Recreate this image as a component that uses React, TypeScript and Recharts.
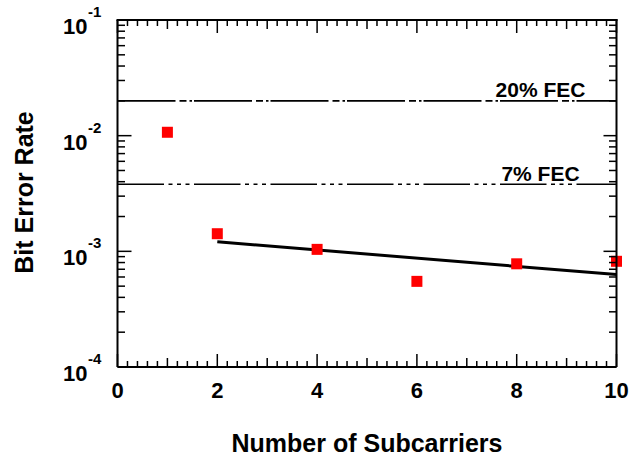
import React from "react";
import {
  ScatterChart,
  Scatter,
  XAxis,
  YAxis,
  ReferenceLine,
  Label,
} from "recharts";

const subcarriers = [1, 2, 4, 6, 8, 10];
const bitErrorRates = [1.07e-2, 1.42e-3, 1.04e-3, 0.55e-3, 0.78e-3, 0.82e-3];

// fitted trend line end points
const fitSubcarriers = [2, 10];
const fitBitErrorRates = [1.21e-3, 0.63e-3];

// FEC thresholds
const fecLevels = [2.0e-2, 3.8e-3];
const fecNames = ["20% FEC", "7% FEC"];
const fecDashes = ["58 4 7 3 2.5 2", "46.5 4.5 4 4.5 4 4.5 4 4.5"];

const xTicks = [
  0, 0.2, 0.4, 0.6, 0.8, 1, 1.2, 1.4, 1.6, 1.8, 2, 2.2, 2.4, 2.6, 2.8, 3, 3.2,
  3.4, 3.6, 3.8, 4, 4.2, 4.4, 4.6, 4.8, 5, 5.2, 5.4, 5.6, 5.8, 6, 6.2, 6.4, 6.6,
  6.8, 7, 7.2, 7.4, 7.6, 7.8, 8, 8.2, 8.4, 8.6, 8.8, 9, 9.2, 9.4, 9.6, 9.8, 10,
];
const yTicks = [
  1e-4, 2e-4, 3e-4, 4e-4, 5e-4, 6e-4, 7e-4, 8e-4, 9e-4, 1e-3, 2e-3, 3e-3, 4e-3,
  5e-3, 6e-3, 7e-3, 8e-3, 9e-3, 1e-2, 2e-2, 3e-2, 4e-2, 5e-2, 6e-2, 7e-2, 8e-2,
  9e-2, 1e-1,
];

const points = subcarriers.map((n, i) => ({ n, ber: bitErrorRates[i] }));
const fitPoints = fitSubcarriers.map((n, i) => ({ n, ber: fitBitErrorRates[i] }));

const W = 642;
const H = 456;
const LEFT = 117.5;
const RIGHT = 25.5;
const TOP = 20;
const BOTTOM = 89;
const PLOT_W = W - LEFT - RIGHT;
const PLOT_H = H - TOP - BOTTOM;
const FONT = "'Liberation Sans', Arial, Helvetica, sans-serif";

const xKind = (v: number) => {
  const r = Math.round(v);
  if (Math.abs(v - r) > 1e-6) return "minor";
  return r % 2 === 0 ? "major" : "mid";
};
const xLen = (v: number) => {
  const k = xKind(v);
  return k === "major" ? 13 : k === "mid" ? 9 : 6;
};
const isDecade = (v: number) => {
  const l = Math.log10(v);
  return Math.abs(l - Math.round(l)) < 1e-6;
};

// bottom ticks also draw the mirrored top ticks (and the right border at x = 10)
const BottomTick = (props: any) => {
  const { x, y, payload } = props;
  const v = payload.value;
  const len = xLen(v);
  const top = y - PLOT_H;
  return (
    <g>
      <line x1={x} y1={y} x2={x} y2={y - len} stroke="#000" strokeWidth={1.5} />
      <line x1={x} y1={top} x2={x} y2={top + len} stroke="#000" strokeWidth={1.5} />
      {Math.abs(v - 10) < 1e-6 && (
        <line x1={x} y1={y} x2={x} y2={top - 1} stroke="#000" strokeWidth={2} />
      )}
      {xKind(v) === "major" && (
        <text x={x} y={y + 31} textAnchor="middle" fontSize={22} fontWeight="bold" fontFamily={FONT} fill="#000">
          {Math.round(v)}
        </text>
      )}
    </g>
  );
};

// left ticks also draw the mirrored right ticks (and the top border at 1e-1)
const LeftTick = (props: any) => {
  const { x, y, payload } = props;
  const v = payload.value;
  const major = isDecade(v);
  const right = x + PLOT_W;
  return (
    <g>
      <line x1={x} y1={y} x2={x + (major ? 14 : 7.5)} y2={y} stroke="#000" strokeWidth={1.5} />
      <line x1={right} y1={y} x2={right - (major ? 13 : 7.5)} y2={y} stroke="#000" strokeWidth={1.5} />
      {Math.abs(v - 0.1) < 1e-9 && (
        <line x1={x - 1} y1={y} x2={right + 1} y2={y} stroke="#000" strokeWidth={2} />
      )}
      {major && (
        <g fontWeight="bold" fontFamily={FONT} fill="#000">
          <text x={x - 30} y={y + 14} textAnchor="end" fontSize={22}>
            10
          </text>
          <text x={x - 29.5} y={y - 3} textAnchor="start" fontSize={15}>
            {String(Math.round(Math.log10(v)))}
          </text>
        </g>
      )}
    </g>
  );
};

const fecLabel = (name: string) => (props: any) => {
  const vb = props.viewBox || {};
  return (
    <text
      x={vb.x + vb.width - 76}
      y={vb.y - 3.5}
      textAnchor="middle"
      fontSize={21}
      fontWeight="bold"
      fontFamily={FONT}
      fill="#000"
    >
      {name}
    </text>
  );
};

const Square = (props: any) => {
  const { cx, cy } = props;
  return <rect x={cx - 5.5} y={cy - 5.5} width={11} height={11} fill="#ff0000" />;
};

const axisLine = { stroke: "#000", strokeWidth: 2 };

export default function App() {
  return (
    <div style={{ position: "absolute", left: 0, top: 0, background: "#fff" }}>
      <ScatterChart
        width={W}
        height={H}
        margin={{ top: TOP, right: RIGHT, bottom: 0, left: 0 }}
      >
        <XAxis
          dataKey="n"
          type="number"
          domain={[0, 10]}
          ticks={xTicks}
          interval={0}
          height={BOTTOM}
          axisLine={axisLine}
          tickLine={false}
          tickSize={0}
          tickMargin={0}
          tick={<BottomTick />}
        >
          <Label
            content={() => (
              <text
                x={LEFT + PLOT_W / 2}
                y={H - 4}
                textAnchor="middle"
                fontSize={25}
                fontWeight="bold"
                fontFamily={FONT}
                fill="#000"
              >
                Number of Subcarriers
              </text>
            )}
          />
        </XAxis>
        <YAxis
          dataKey="ber"
          type="number"
          scale="log"
          domain={[1e-4, 1e-1]}
          ticks={yTicks}
          interval={0}
          width={LEFT}
          axisLine={axisLine}
          tickLine={false}
          tickSize={0}
          tickMargin={0}
          tick={<LeftTick />}
        >
          <Label
            content={() => (
              <text
                x={33}
                y={192.5}
                transform="rotate(-90 33 192.5)"
                textAnchor="middle"
                fontSize={25}
                fontWeight="bold"
                fontFamily={FONT}
                fill="#000"
              >
                Bit Error Rate
              </text>
            )}
          />
        </YAxis>
        {fecLevels.map((lvl, i) => (
          <ReferenceLine
            key={fecNames[i]}
            y={lvl}
            stroke="#000"
            strokeWidth={1.6}
            strokeDasharray={fecDashes[i]}
            label={{ content: fecLabel(fecNames[i]) }}
          />
        ))}
        <Scatter
          data={fitPoints}
          line={{ stroke: "#000", strokeWidth: 3 }}
          shape={() => <g />}
          isAnimationActive={false}
        />
        <Scatter data={points} shape={<Square />} isAnimationActive={false} />
      </ScatterChart>
    </div>
  );
}
